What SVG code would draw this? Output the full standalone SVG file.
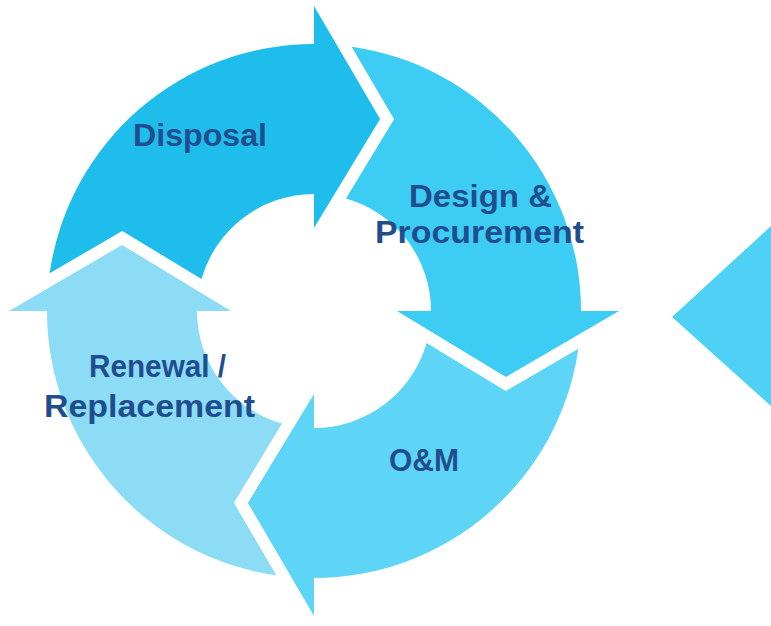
<svg xmlns="http://www.w3.org/2000/svg" width="771" height="626" viewBox="0 0 771 626">
  <defs>
    <path id="arrowShape" d="M -264.35 -37.66 A 267 267 0 0 1 0 -267 L 0 -305 L 66.1 -191.9 L 0 -83 L 0 -117 A 117 117 0 0 0 -112.54 -31.97 L -191.78 -80.07 Z"/>
  </defs>
  <style>
    .lbl { font-family: "Liberation Sans", Arial, sans-serif; font-weight: bold; font-size: 32px; fill: #1F4E8E; }
  </style>
  <rect width="771" height="626" fill="#FFFFFF"/>
  <g id="disposal">
    <use href="#arrowShape" transform="translate(314 311)" fill="#1FBDEB"/>
    <text class="lbl" x="133" y="146" textLength="134" lengthAdjust="spacingAndGlyphs">Disposal</text>
  </g>
  <g id="design-procurement">
    <use href="#arrowShape" transform="translate(314 311) rotate(90)" fill="#3DCCF4"/>
    <text class="lbl" x="409" y="207" textLength="143" lengthAdjust="spacingAndGlyphs">Design &amp;</text>
    <text class="lbl" x="375" y="243" textLength="209" lengthAdjust="spacingAndGlyphs">Procurement</text>
  </g>
  <g id="om">
    <use href="#arrowShape" transform="translate(314 311) rotate(180)" fill="#5ED5F6"/>
    <text class="lbl" x="389" y="471" textLength="70" lengthAdjust="spacingAndGlyphs">O&amp;M</text>
  </g>
  <g id="renewal-replacement">
    <use href="#arrowShape" transform="translate(314 311) rotate(270)" fill="#8DDCF6"/>
    <text class="lbl" x="89" y="377" textLength="137" lengthAdjust="spacingAndGlyphs">Renewal /</text>
    <text class="lbl" x="44" y="417" textLength="211" lengthAdjust="spacingAndGlyphs">Replacement</text>
  </g>
  <g id="right-partial">
    <polygon points="672,317 771,226 771,406" fill="#4FD1F5"/>
  </g>
  <g id="connectors"/>
</svg>
